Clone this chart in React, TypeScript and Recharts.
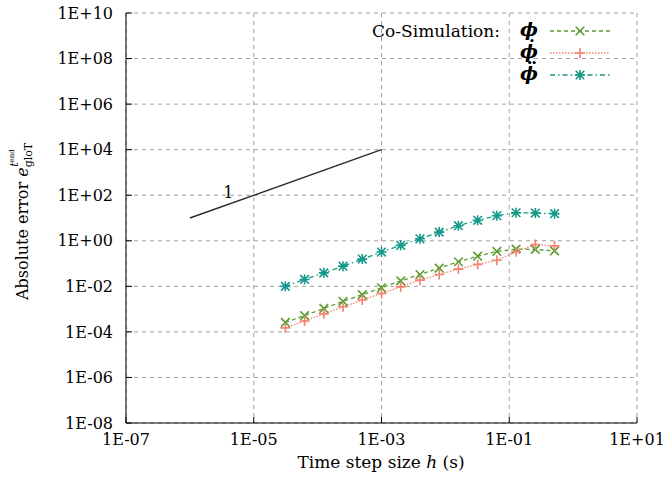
import React from "react";
import {
  LineChart,
  Line,
  XAxis,
  YAxis,
  CartesianGrid,
  ReferenceDot,
} from "recharts";

// time step sizes h (s), halved each run
const stepSizes = [
  3.125e-5, 6.25e-5, 1.25e-4, 2.5e-4, 5e-4, 1e-3, 2e-3, 4e-3, 8e-3, 1.6e-2,
  3.2e-2, 6.4e-2, 0.128, 0.256, 0.512,
];
const errPhi = [
  2.6e-4, 5.2e-4, 1.07e-3, 2.2e-3, 4.3e-3, 8.6e-3, 1.74e-2, 3.3e-2, 6.3e-2,
  0.12, 0.21, 0.34, 0.43, 0.42, 0.36,
];
const errPhiDot = [
  1.5e-4, 3.0e-4, 6.2e-4, 1.26e-3, 2.5e-3, 4.9e-3, 9.5e-3, 1.87e-2, 3.3e-2,
  5.7e-2, 9.2e-2, 0.14, 0.33, 0.69, 0.6,
];
const errPhiDdot = [
  1.0e-2, 2.0e-2, 3.9e-2, 7.7e-2, 0.157, 0.32, 0.63, 1.22, 2.4, 4.6, 7.9, 12.6,
  17, 16.5, 15.5,
];

// first-order reference slope
const slopeSteps = [1e-6, 1e-3];
const slopeErrors = [10, 1e4];
const slopeLabel = "1";

const xTicks = [1e-7, 1e-5, 1e-3, 1e-1, 10];
const yTicks = [1e-8, 1e-6, 1e-4, 1e-2, 1, 1e2, 1e4, 1e6, 1e8, 1e10];

const legendTitle = "Co-Simulation:";
const seriesLabels = ["ϕ", "ϕ", "ϕ"];
const seriesDots = [0, 1, 2]; // derivative order shown as dots over the symbol

const rows = stepSizes.map((h, i) => ({
  h,
  phi: errPhi[i],
  dphi: errPhiDot[i],
  ddphi: errPhiDdot[i],
}));
const slopeRows = slopeSteps.map((h, i) => ({ h, slope: slopeErrors[i] }));

const FONT = "DejaVu Serif";

const fmtExp = (v: number) => {
  const e = Math.round(Math.log10(v));
  return `1E${e < 0 ? "-" : "+"}${String(Math.abs(e)).padStart(2, "0")}`;
};

type MarkerKind = "cross" | "plus" | "star";

function Marker({ kind, cx, cy, color }: { kind: MarkerKind; cx: number; cy: number; color: string }) {
  const a = 4.3;
  const b = 5;
  const x = `M${cx - a},${cy - a}L${cx + a},${cy + a}M${cx - a},${cy + a}L${cx + a},${cy - a}`;
  const p = `M${cx - b},${cy}L${cx + b},${cy}M${cx},${cy - b}L${cx},${cy + b}`;
  const d = kind === "cross" ? x : kind === "plus" ? p : x + p;
  return <path d={d} stroke={color} strokeWidth={1.6} fill="none" />;
}

const series = [
  { key: "phi", color: "#5c9c30", dash: "4 3", marker: "cross" as MarkerKind },
  { key: "dphi", color: "#f5826e", dash: "1.5 1.5", marker: "plus" as MarkerKind },
  { key: "ddphi", color: "#15998b", dash: "5 3 1.5 3", marker: "star" as MarkerKind },
];

function LegendBox() {
  const rowY = [31, 53, 75];
  return (
    <svg
      width={664}
      height={90}
      style={{ position: "absolute", left: 0, top: 0, pointerEvents: "none" }}
    >
      <text x={500} y={37} textAnchor="end" fontFamily={FONT} fontSize={17} fill="#000">
        {legendTitle}
      </text>
      {series.map((s, i) => (
        <g key={s.key}>
          <text
            x={529}
            y={rowY[i] + 5}
            textAnchor="middle"
            fontFamily={FONT}
            fontSize={19}
            fontWeight="bold"
            fontStyle="italic"
            fill="#000"
          >
            {seriesLabels[i]}
          </text>
          {Array.from({ length: seriesDots[i] }, (_, k) => (
            <circle
              key={k}
              cx={532 + (k - (seriesDots[i] - 1) / 2) * 4.4}
              cy={rowY[i] - 12.5}
              r={1.6}
              fill="#000"
            />
          ))}
          <line
            x1={550}
            x2={610}
            y1={rowY[i]}
            y2={rowY[i]}
            stroke={s.color}
            strokeWidth={1.3}
            strokeDasharray={s.dash}
          />
          <Marker kind={s.marker} cx={580} cy={rowY[i]} color={s.color} />
        </g>
      ))}
    </svg>
  );
}

function YTitle() {
  return (
    <text
      x={28}
      y={300}
      transform="rotate(-90 28 300)"
      fontFamily={FONT}
      fontSize={16}
      fill="#000"
    >
      Absolute error{" "}
      <tspan fontStyle="italic">e</tspan>
      <tspan fontSize={11} dy={4}>gloT</tspan>
      <tspan fontSize={11} fontStyle="italic" dx={-24} dy={-14}>t</tspan>
      <tspan fontSize={7} dy={-4}>end</tspan>
    </text>
  );
}

function XTitle() {
  return (
    <text x={381} y={468} textAnchor="middle" fontFamily={FONT} fontSize={17} fill="#000">
      Time step size <tspan fontStyle="italic">h</tspan> (s)
    </text>
  );
}

export default function App() {
  return (
    <div style={{ position: "absolute", left: 0, top: 0, width: 664, height: 492, background: "#fff" }}>
      <LineChart
        width={664}
        height={492}
        data={rows}
        margin={{ top: 13, right: 27, bottom: 0, left: 0 }}
      >
        <CartesianGrid stroke="#a0a0a0" strokeDasharray="4 4" />
        <XAxis
          dataKey="h"
          type="number"
          scale="log"
          domain={[1e-7, 10]}
          ticks={xTicks}
          allowDataOverflow
          height={69}
          tickFormatter={fmtExp}
          tick={{ fill: "#000", fontSize: 16, fontFamily: FONT }}
          axisLine={{ stroke: "#000" }}
          tickLine={{ stroke: "#000" }}
          tickSize={-6}
          tickMargin={17}
          label={{ content: () => <XTitle /> }}
        />
        <YAxis
          type="number"
          scale="log"
          domain={[1e-8, 1e10]}
          ticks={yTicks}
          allowDataOverflow
          width={126}
          tickFormatter={fmtExp}
          tick={{ fill: "#000", fontSize: 16, fontFamily: FONT }}
          axisLine={{ stroke: "#000" }}
          tickLine={{ stroke: "#000" }}
          tickSize={-6}
          tickMargin={19}
          label={{ content: () => <YTitle /> }}
        />
        <Line
          data={slopeRows}
          dataKey="slope"
          stroke="#2b2b2b"
          strokeWidth={1.4}
          dot={false}
          activeDot={false}
          isAnimationActive={false}
        />
        <ReferenceDot
          x={4e-6}
          y={130}
          r={0}
          fill="none"
          stroke="none"
          label={{ value: slopeLabel, position: "center", fill: "#000", fontSize: 16, fontFamily: FONT }}
        />
        {series.map((s) => (
          <Line
            key={s.key}
            dataKey={s.key}
            stroke={s.color}
            strokeWidth={1.3}
            strokeDasharray={s.dash}
            activeDot={false}
            isAnimationActive={false}
            dot={(p: any) => (
              <Marker key={`${s.key}-${p.index}`} kind={s.marker} cx={p.cx} cy={p.cy} color={s.color} />
            )}
          />
        ))}
      </LineChart>
      <LegendBox />
    </div>
  );
}
